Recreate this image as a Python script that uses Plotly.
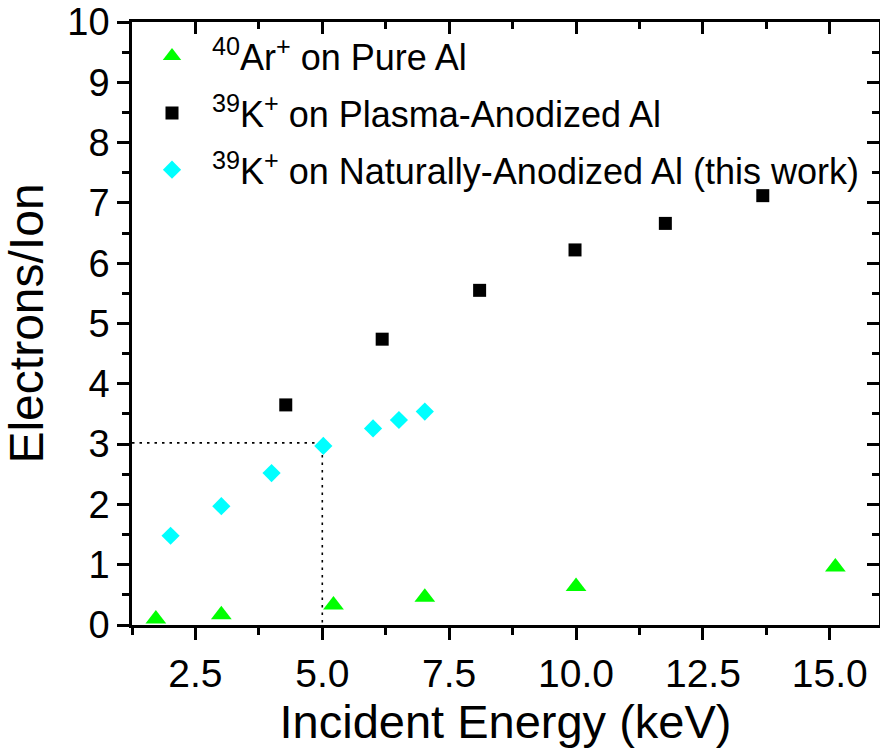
import plotly.graph_objects as go

# ---- data ----
ar_energy = [1.72, 3.01, 5.22, 7.02, 10.0, 15.11]
ar_yield = [0.10, 0.17, 0.33, 0.46, 0.64, 0.96]

kp_energy = [4.28, 6.18, 8.10, 9.98, 11.76, 13.68]
kp_yield = [3.65, 4.74, 5.55, 6.22, 6.66, 7.12]

kn_energy = [2.01, 3.01, 4.00, 5.02, 6.00, 6.51, 7.02]
kn_yield = [1.48, 1.97, 2.52, 2.97, 3.26, 3.40, 3.54]

ref_energy = 5.0
ref_yield = 3.02

names = [
    "<sup>40</sup>Ar<sup>+</sup> on Pure Al",
    "<sup>39</sup>K<sup>+</sup> on Plasma-Anodized Al",
    "<sup>39</sup>K<sup>+</sup> on Naturally-Anodized Al (this work)",
]

x_range = [1.25, 15.97]
y_range = [0, 10]

FONT = "Liberation Sans, Arial, sans-serif"

fig = go.Figure()

# guide dotted lines
fig.add_trace(go.Scatter(
    x=[x_range[0], ref_energy, ref_energy], y=[ref_yield, ref_yield, y_range[0]],
    mode="lines", line=dict(color="black", width=1.6, dash="2.5px,5px"),
    showlegend=False, hoverinfo="skip"))

fig.add_trace(go.Scatter(
    x=ar_energy, y=ar_yield, mode="markers", name=names[0], legendgroup="a",
    marker=dict(symbol="triangle-up", size=18, color="#00FF00", line=dict(width=0))))
fig.add_trace(go.Scatter(
    x=kp_energy, y=kp_yield, mode="markers", name=names[1], legendgroup="b",
    marker=dict(symbol="square", size=13, color="black", line=dict(width=0))))
fig.add_trace(go.Scatter(
    x=kn_energy, y=kn_yield, mode="markers", name=names[2], legendgroup="c",
    marker=dict(symbol="diamond", size=14, color="#00FFFF", line=dict(width=0))))

# invisible trace to activate mirrored axes
fig.add_trace(go.Scatter(x=[x_range[0]], y=[y_range[0]], xaxis="x2", yaxis="y2",
                         mode="markers", marker=dict(opacity=0), showlegend=False,
                         hoverinfo="skip"))

axis_common = dict(showgrid=False, zeroline=False, showline=True, linecolor="black",
                   linewidth=2.5, tickcolor="black", tickwidth=2.5, ticklen=12)

fig.update_layout(
    width=880, height=756,
    margin=dict(l=132, r=1, t=22, b=131, autoexpand=False),
    paper_bgcolor="white", plot_bgcolor="white",
    font=dict(family=FONT, color="black"),
    xaxis=dict(**axis_common, range=x_range, ticks="outside", tick0=0, dtick=2.5,
               tickformat=".1f", tickfont=dict(size=39),
               minor=dict(ticks="outside", dtick=1.25, ticklen=7, tickwidth=2.5, tickcolor="black"),
               title=dict(text="Incident Energy (keV)", font=dict(size=47), standoff=10)),
    yaxis=dict(**axis_common, range=y_range, ticks="outside", tick0=0, dtick=1,
               tickfont=dict(size=38),
               minor=dict(ticks="outside", dtick=0.5, ticklen=7, tickwidth=2.5, tickcolor="black"),
               title=dict(text="Electrons/Ion", font=dict(size=48), standoff=16)),
    xaxis2=dict(**axis_common, range=x_range, overlaying="x", side="top", ticks="inside",
                tick0=0, dtick=2.5, showticklabels=False,
                minor=dict(ticks="inside", dtick=1.25, ticklen=7, tickwidth=2.5, tickcolor="black")),
    yaxis2=dict(**axis_common, range=y_range, overlaying="y", side="right", ticks="inside",
                tick0=0, dtick=1, showticklabels=False,
                minor=dict(ticks="inside", dtick=0.5, ticklen=7, tickwidth=2.5, tickcolor="black")),
    legend=dict(x=0.0, y=0.993, xanchor="left", yanchor="top", bgcolor="rgba(0,0,0,0)",
                font=dict(size=36), tracegroupgap=7, itemwidth=70),
    showlegend=True,
)

fig.write_html("out.html")
